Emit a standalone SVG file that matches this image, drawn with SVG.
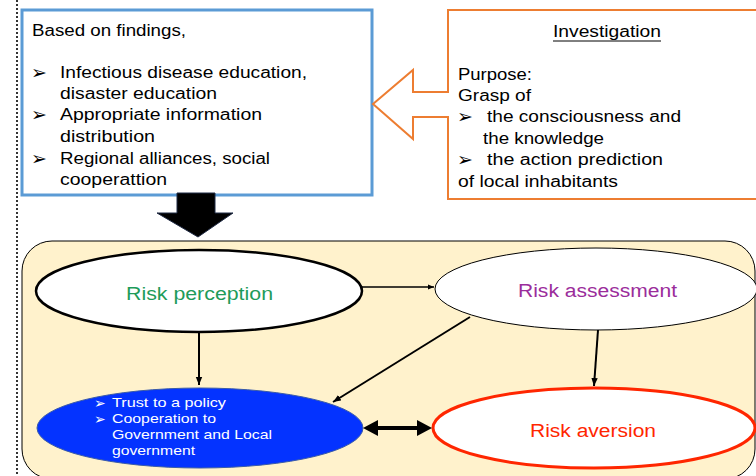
<svg xmlns="http://www.w3.org/2000/svg" width="756" height="476" viewBox="0 0 756 476">
<style>
.t{font-family:"Liberation Sans",Arial,sans-serif;font-size:16px;fill:#000}
.b{font-family:"DejaVu Sans",sans-serif;font-size:19px;fill:#000}
.w{font-family:"Liberation Sans",Arial,sans-serif;font-size:13px;fill:#fff}
.wb{font-family:"DejaVu Sans",sans-serif;font-size:14px;fill:#fff}
.lab{font-family:"Liberation Sans",Arial,sans-serif;font-size:18px;text-anchor:start}
</style>
<defs>
<marker id="ah" viewBox="0 0 10 10" refX="10" refY="5" markerWidth="4" markerHeight="4" orient="auto" markerUnits="strokeWidth">
<path d="M0,1 L10,5 L0,9 z" fill="#000"/>
</marker>
</defs>
<rect width="756" height="476" fill="#fff"/>
<line x1="17" y1="0" x2="17" y2="476" stroke="#333" stroke-width="2" stroke-dasharray="2,2"/>

<g id="findings">
<rect x="22" y="10" width="350" height="185" fill="#fff" stroke="#5B9BD5" stroke-width="3"/>
<text class="t" x="32" y="36" textLength="154" lengthAdjust="spacingAndGlyphs">Based on findings,</text>
<text class="b" x="31" y="79">➢</text>
<text class="t" x="60" y="78" textLength="247" lengthAdjust="spacingAndGlyphs">Infectious disease education,</text>
<text class="t" x="60" y="99" textLength="157" lengthAdjust="spacingAndGlyphs">disaster education</text>
<text class="b" x="31" y="121">➢</text>
<text class="t" x="60" y="120" textLength="202" lengthAdjust="spacingAndGlyphs">Appropriate information</text>
<text class="t" x="60" y="142" textLength="95" lengthAdjust="spacingAndGlyphs">distribution</text>
<text class="b" x="31" y="165">➢</text>
<text class="t" x="60" y="164" textLength="210" lengthAdjust="spacingAndGlyphs">Regional alliances, social</text>
<text class="t" x="60" y="185" textLength="107" lengthAdjust="spacingAndGlyphs">cooperattion</text>
</g>

<g id="investigation">
<path d="M760,10 L448,10 L448,92 L413,92 L413,70 L373,104 L413,139 L413,117 L448,117 L448,199 L760,199" fill="#fff" stroke="#ED7D31" stroke-width="2"/>
<text class="t" x="553" y="37" textLength="108" lengthAdjust="spacingAndGlyphs">Investigation</text>
<line x1="553" y1="41" x2="661" y2="41" stroke="#000" stroke-width="1"/>
<text class="t" x="458" y="80" textLength="74" lengthAdjust="spacingAndGlyphs">Purpose:</text>
<text class="t" x="458" y="101" textLength="73" lengthAdjust="spacingAndGlyphs">Grasp of</text>
<text class="b" x="457" y="123">➢</text>
<text class="t" x="487" y="122" textLength="194" lengthAdjust="spacingAndGlyphs">the consciousness and</text>
<text class="t" x="483" y="144" textLength="121" lengthAdjust="spacingAndGlyphs">the knowledge</text>
<text class="b" x="457" y="166">➢</text>
<text class="t" x="487" y="165" textLength="176" lengthAdjust="spacingAndGlyphs">the action prediction</text>
<text class="t" x="458" y="187" textLength="160" lengthAdjust="spacingAndGlyphs">of local inhabitants</text>
</g>

<g id="down-arrow">
<path d="M177,193 L215,193 L215,213 L233,213 L198,237 L157,213 L177,213 z" fill="#000" stroke="#1F2A44" stroke-width="1"/>
</g>

<g id="model">
<rect x="22" y="241" width="733" height="238" rx="30" ry="30" fill="#FFF2CC" stroke="#000" stroke-width="1"/>
</g>

<g id="risk-perception">
<ellipse cx="199" cy="291" rx="163" ry="41" fill="#fff" stroke="#000" stroke-width="2.5"/>
<text class="lab" x="126" y="300" fill="#1E9B5A" textLength="147" lengthAdjust="spacingAndGlyphs">Risk perception</text>
</g>

<g id="risk-assessment">
<ellipse cx="596" cy="289" rx="161" ry="41" fill="#fff" stroke="#000" stroke-width="1"/>
<text class="lab" x="518" y="297" fill="#9B2D9B" textLength="159" lengthAdjust="spacingAndGlyphs">Risk assessment</text>
</g>

<g id="trust">
<ellipse cx="200" cy="428" rx="163" ry="40" fill="#0433FF" stroke="#3A5BA8" stroke-width="1"/>
<text class="wb" x="94" y="408">➢</text>
<text class="w" x="112" y="407" textLength="114" lengthAdjust="spacingAndGlyphs">Trust to a policy</text>
<text class="wb" x="94" y="424">➢</text>
<text class="w" x="112" y="423" textLength="104" lengthAdjust="spacingAndGlyphs">Cooperation to</text>
<text class="w" x="112" y="439" textLength="160" lengthAdjust="spacingAndGlyphs">Government and Local</text>
<text class="w" x="112" y="455" textLength="83" lengthAdjust="spacingAndGlyphs">government</text>
</g>

<g id="risk-aversion">
<ellipse cx="594" cy="428" rx="161" ry="40" fill="#fff" stroke="#FF2600" stroke-width="3"/>
<text class="lab" x="530" y="437" fill="#FF2600" textLength="126" lengthAdjust="spacingAndGlyphs">Risk aversion</text>
</g>

<g id="connectors">
<line x1="362" y1="287" x2="434" y2="287" stroke="#000" stroke-width="1.5" marker-end="url(#ah)"/>
<line x1="199" y1="332" x2="199" y2="385" stroke="#000" stroke-width="2" marker-end="url(#ah)"/>
<line x1="598" y1="330" x2="594" y2="386" stroke="#000" stroke-width="2" marker-end="url(#ah)"/>
<line x1="470" y1="317" x2="333" y2="402" stroke="#000" stroke-width="2" marker-end="url(#ah)"/>
<line x1="375" y1="428" x2="420" y2="428" stroke="#000" stroke-width="4"/>
<path d="M363,428 L378,420 L378,436 z" fill="#000"/>
<path d="M432,428 L417,420 L417,436 z" fill="#000"/>
</g>
</svg>
